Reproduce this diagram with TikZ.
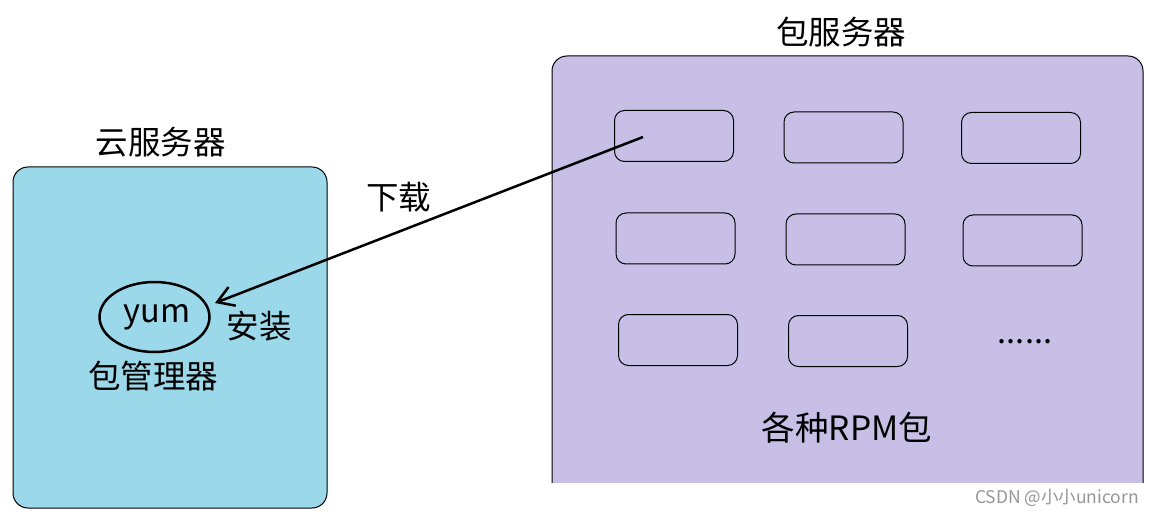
\documentclass[tikz,border=0pt]{standalone}
\usepackage{fontspec}
\setmainfont{Noto Sans CJK SC}
\newfontfamily\cjk{Noto Sans CJK SC}
\usetikzlibrary{arrows.meta,shapes.geometric}
\definecolor{cloudblue}{RGB}{155,216,233}
\definecolor{pkgpurple}{RGB}{199,191,230}
\definecolor{wmgray}{RGB}{150,150,150}
\tikzset{
  lbl/.style={inner sep=0pt, font=\cjk\fontsize{32.5}{38}\selectfont},
  pkg/.style={draw=black, line width=1pt, rounded corners=10pt, minimum width=119pt, minimum height=51pt, inner sep=0pt},
  arr/.style={line width=2.5pt, -{Straight Barb[length=16pt,width=20pt,line width=2.5pt]}},
}
\begin{document}
\begin{tikzpicture}[x=1pt,y=-1pt]
\useasboundingbox (0,0) rectangle (1155,518);
\fill[white] (0,0) rectangle (1155,518);
% cloud server
\draw[fill=cloudblue, line width=1pt, rounded corners=15pt] (13,167) rectangle (327,508);
\node[lbl] (cloudt) at (160.5,142) {云服务器};
% package server (clipped at bottom)
\begin{scope}
  \clip (0,0) rectangle (1155,482);
  \draw[fill=pkgpurple, line width=1pt, rounded corners=15pt] (552,56) rectangle (1143,530);
\end{scope}
\node[lbl] (pkgt) at (841,32.5) {包服务器};
% packages
\node[pkg] (p1) at (674,136) {};
\node[pkg] (p2) at (843.5,137.5) {};
\node[pkg] (p3) at (1021,138) {};
\node[pkg] (p4) at (675.5,238.5) {};
\node[pkg] (p5) at (845.5,239.5) {};
\node[pkg] (p6) at (1022.5,240.5) {};
\node[pkg] (p7) at (678,340) {};
\node[pkg] (p8) at (848,341) {};
\node[lbl] (dots) at (1025,342) {......};
\node[lbl, font=\cjk\fontsize{33.5}{38}\selectfont] (rpm) at (847,428) {各种RPM包};
% yum
\node[draw, ellipse, line width=2.5pt, minimum width=110pt, minimum height=70pt, inner sep=0pt] (yum) at (154.5,317) {};
\node[lbl] (yumt) at (157,317) {yum};
\node[lbl] (mgr) at (153,376) {包管理器};
\node[lbl] (inst) at (259,326) {安装};
\node[lbl] (dl) at (398.7,197) {下载};
% arrow
\coordinate (src) at (643,137);
\coordinate (dst) at (215,303);
\draw[arr] (src) -- (dst);
% watermark
\node[inner sep=0pt, text=wmgray, font=\cjk\fontsize{17.5}{20}\selectfont] (wm) at (1057,498) {CSDN @小小unicorn};
\end{tikzpicture}
\end{document}
